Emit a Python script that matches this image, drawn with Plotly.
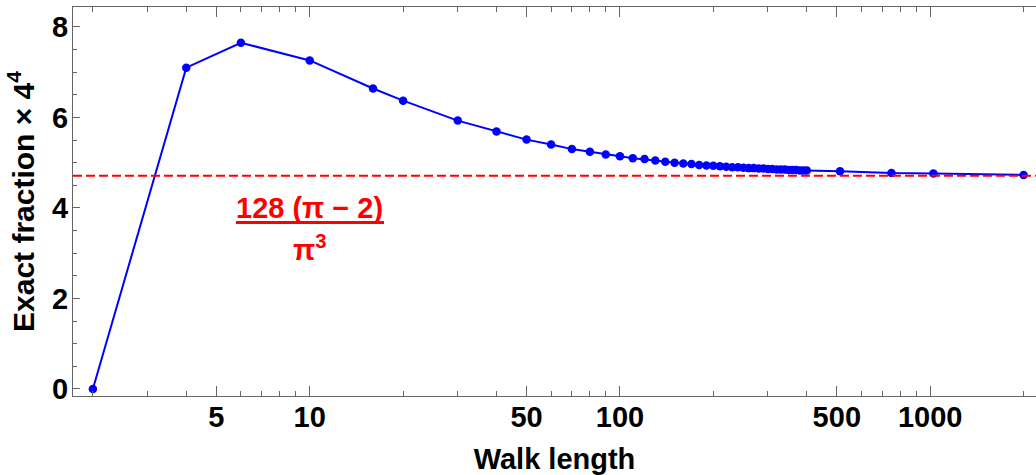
import math
import plotly.graph_objects as go

# ---- data ----
walk_length = [2, 4, 6, 10, 16, 20, 30, 40,
               50, 60, 70, 80, 90, 100, 110, 120, 130, 140, 150,
               160, 170, 180, 190, 200, 210, 220, 230, 240, 250,
               260, 270, 280, 290, 300, 310, 320, 330, 340, 350,
               360, 370, 380, 390, 400,
               512, 750, 1024, 2000]
scaled_fraction = [0.0, 7.10, 7.65, 7.26, 6.64, 6.37, 5.93, 5.69,
                   5.51, 5.40, 5.30, 5.24, 5.18, 5.14, 5.10, 5.08, 5.05, 5.02, 5.00,
                   4.98, 4.97, 4.95, 4.94, 4.93, 4.92, 4.91, 4.90, 4.90, 4.89,
                   4.88, 4.88, 4.87, 4.87, 4.86, 4.86, 4.85, 4.85, 4.85, 4.84,
                   4.84, 4.84, 4.83, 4.83, 4.83,
                   4.81, 4.77, 4.76, 4.73]
asymptote = 128 * (math.pi - 2) / math.pi ** 3

x_major_ticks = [5, 10, 50, 100, 500, 1000]
x_minor_ticks = [2, 3, 4, 6, 7, 8, 9, 20, 30, 40, 60, 70, 80, 90,
                 200, 300, 400, 600, 700, 800, 900, 2000]
y_major_ticks = [0, 2, 4, 6, 8]

FONT = "Liberation Sans"
FS = 29
BLUE = "#0000FF"
RED = "#FF0000"
FRAME = "#666666"

fig = go.Figure()

fig.add_trace(go.Scatter(
    x=walk_length, y=scaled_fraction, mode="lines+markers",
    line=dict(color=BLUE, width=2),
    marker=dict(color=BLUE, size=8.5),
    showlegend=False,
))

fig.add_hline(y=asymptote, line=dict(color=RED, width=2, dash="9px,4px"))

# label for the asymptote: fraction 128(pi-2)/pi^3
lab_x = math.log10(10)
fig.add_annotation(x=lab_x, y=asymptote, xref="x", yref="y",
                   text="128 (π − 2)", showarrow=False, yanchor="middle",
                   yshift=-32, font=dict(family=FONT, size=FS, color=RED, weight="bold"))
fig.add_annotation(x=lab_x, y=asymptote, xref="x", yref="y",
                   text="π<sup>3</sup>", showarrow=False, yanchor="middle",
                   yshift=-72, font=dict(family=FONT, size=FS, color=RED, weight="bold"))
# fraction bar
fig.add_annotation(x=lab_x, y=asymptote, xref="x", yref="y",
                   text=" ", showarrow=False, yanchor="middle",
                   width=146, height=1, borderpad=0, borderwidth=1,
                   bordercolor=RED, bgcolor=RED,
                   font=dict(size=1), yshift=-47)

fig.update_layout(
    width=1036, height=475,
    margin=dict(l=73, r=0, t=7, b=79),
    paper_bgcolor="white", plot_bgcolor="white",
    font=dict(family=FONT, size=FS, color="black", weight="bold"),
    xaxis=dict(
        type="log", range=[0.237, 3.341],
        showline=True, linecolor=FRAME, linewidth=1, mirror="ticks",
        showgrid=False, zeroline=False,
        ticks="inside", ticklen=10, tickwidth=1, tickcolor=FRAME,
        tickmode="array", tickvals=x_major_ticks,
        ticktext=[str(v) for v in x_major_ticks],
        tickfont=dict(family=FONT, size=FS, color="black", weight="bold"),
        ticklabelstandoff=-5,
        minor=dict(ticks="inside", ticklen=5, tickwidth=1, tickcolor=FRAME,
                   tickvals=x_minor_ticks, showgrid=False),
        title=dict(text="Walk length", standoff=20,
                   font=dict(family=FONT, size=FS, color="black", weight="bold")),
    ),
    yaxis=dict(
        range=[-0.155, 8.44],
        showline=True, linecolor=FRAME, linewidth=1, mirror=False,
        showgrid=False, zeroline=False,
        ticks="inside", ticklen=7, tickwidth=1, tickcolor=FRAME,
        tickmode="array", tickvals=y_major_ticks,
        tickfont=dict(family=FONT, size=FS, color="black", weight="bold"),
        ticklabelstandoff=-2,
        minor=dict(ticks="inside", ticklen=4, tickwidth=1, tickcolor=FRAME,
                   dtick=0.5, showgrid=False),
        title=dict(text="Exact fraction × 4<sup>4</sup>", standoff=8,
                   font=dict(family=FONT, size=30, color="black", weight="bold")),
    ),
)

fig.write_html("out.html", config={"displayModeBar": False},
               post_script="document.body.style.margin='0px';document.body.style.overflow='hidden';")
